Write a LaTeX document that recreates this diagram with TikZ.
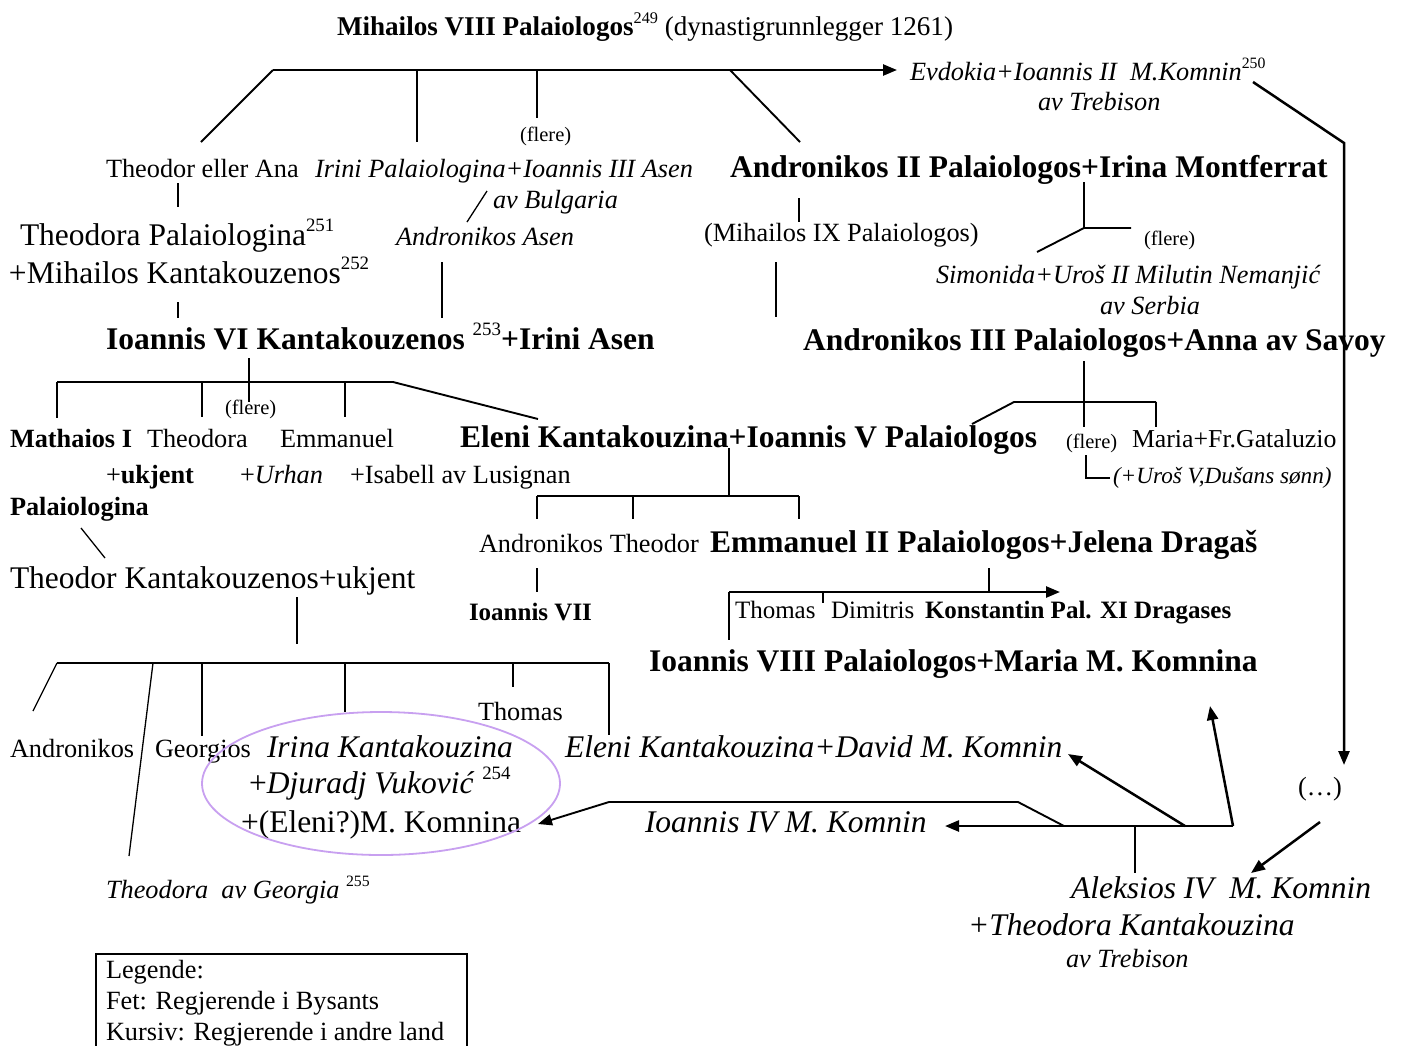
\documentclass[tikz,border=0pt]{standalone}
\usepackage{fontspec}
\setmainfont{Liberation Serif}
\usepackage{graphicx}
\usetikzlibrary{arrows.meta}
\newcommand\sups[1]{\raisebox{0.42em}{\scalebox{0.6}{\mdseries\upshape #1}}}
\newcommand\fsz[1]{\fontsize{#1}{#1}\selectfont}
\definecolor{lav}{RGB}{200,160,240}
\tikzset{
  lbl/.style={anchor=base west, inner sep=0pt, outer sep=0pt},
  fT/.style={lbl, font=\fsz{27.1}},
  fA/.style={lbl, font=\fsz{26.3}},
  fB/.style={lbl, font=\fsz{31.5}},
  fC/.style={lbl, font=\fsz{25}},
  fM/.style={lbl, font=\fsz{25.8}},
  fF/.style={lbl, font=\fsz{20.5}},
  fU/.style={lbl, font=\fsz{23.2}},
  ln/.style={line width=1.3pt},
  lm/.style={line width=1.9pt},
  lk/.style={line width=2.5pt},
  arr/.style={-{Triangle[length=14pt,width=11pt]}},
}
\begin{document}
\begin{tikzpicture}[x=1pt,y=-1pt]
\fill[white] (0,0) rectangle (1410,1045);
\useasboundingbox (0,0) rectangle (1410,1045);

% ---------- texts ----------
\node[fT] (title) at (337,35) {\textbf{Mihailos VIII Palaiologos}\sups{249} (dynastigrunnlegger 1261)};
\node[fA] (evd) at (910,80) {\textit{Evdokia+Ioannis II\ \ M.Komnin}\sups{250}};
\node[fA] (evd2) at (1038,110) {\textit{av Trebison}};
\node[fA] (thea) at (106,177) {Theodor eller Ana};
\node[fA] (irini) at (315,177) {\textit{Irini Palaiologina+Ioannis III Asen}};
\node[fF] (fl1) at (520,141) {(flere)};
\node[fB] (andr2) at (730,177) {\textbf{Andronikos II Palaiologos+Irina Montferrat}};
\node[fA] (bulg) at (493,208) {\textit{av Bulgaria}};
\node[fA] (andasen) at (396,245) {\textit{Andronikos Asen}};
\node[fB] (theodora) at (20,245) {Theodora Palaiologina\sups{251}};
\node[fB] (mihk) at (9,283) {+Mihailos Kantakouzenos\sups{252}};
\node[fA] (mih9) at (704,241) {(Mihailos IX Palaiologos)};
\node[fF] (fl2) at (1144,245) {(flere)};
\node[fA] (simon) at (936,283) {\textit{Simonida+Uroš II Milutin Nemanjić}};
\node[fA] (serb) at (1100,314) {\textit{av Serbia}};
\node[fB] (ioan6) at (106,349) {\textbf{Ioannis VI Kantakouzenos \sups{253}+Irini Asen}};
\node[fB] (andr3) at (803,350) {\textbf{Andronikos III Palaiologos+Anna av Savoy}};
\node[fF] (fl3) at (225,414) {(flere)};
\node[fA] (math) at (10,447) {\textbf{Mathaios I}};
\node[fA] (theo2) at (147,447) {Theodora};
\node[fA] (emm) at (280,447) {Emmanuel};
\node[fB] (eleni) at (460,447) {\textbf{Eleni Kantakouzina+Ioannis V Palaiologos}};
\node[fF] (fl4) at (1066,448) {(flere)};
\node[fM] (maria) at (1132,447) {Maria+Fr.Gataluzio};
\node[fA] (ukj) at (106,483) {+\textbf{ukjent}};
\node[fA] (urh) at (240,483) {+\textit{Urhan}};
\node[fA] (isab) at (350,483) {+Isabell av Lusignan};
\node[fU] (uros) at (1113,483) {\textit{(+Uroš V,Dušans sønn)}};
\node[fA] (palg) at (10,515) {\textbf{Palaiologina}};
\node[fA] (andth) at (479,552) {Andronikos Theodor};
\node[fB] (emm2) at (710,552) {\textbf{Emmanuel II Palaiologos+Jelena Dragaš}};
\node[fB] (theok) at (10,588) {Theodor Kantakouzenos+ukjent};
\node[fC] (ioan7) at (469,620) {\textbf{Ioannis VII}};
\node[fC] (thom) at (735,618) {Thomas};
\node[fC] (dimi) at (831,618) {Dimitris};
\node[fC] (kons) at (925,618) {\textbf{Konstantin Pal. XI Dragases}};
\node[fB] (ioan8) at (649,671) {\textbf{Ioannis VIII Palaiologos+Maria M. Komnina}};
\node[fA] (thom2) at (478,720) {Thomas};
\node[fA] (andro) at (10,757) {Andronikos};
\node[fA] (georg) at (155,757) {Georgios};
\node[fB] (irina) at (267,757) {\textit{Irina Kantakouzina}};
\node[fB] (djur) at (249,793) {+\textit{Djuradj Vuković} \sups{254}};
\node[fB] (elenm) at (241,832) {+(Eleni?)M. Komnina};
\node[fB] (elend) at (565,757) {\textit{Eleni Kantakouzina+David M. Komnin}};
\node[fB] (ioan4) at (645,832) {\textit{Ioannis IV M. Komnin}};
\node[fA] (dots) at (1298,795) {(…)};
\node[fA] (theog) at (106,898) {\textit{Theodora\ \ av Georgia} \sups{255}};
\node[fB] (alek) at (1071,898) {\textit{Aleksios IV\ \ M. Komnin}};
\node[fB] (theok2) at (968,935) {\textit{+Theodora Kantakouzina}};
\node[fA] (treb2) at (1066,967) {\textit{av Trebison}};
\node[fA] (leg1) at (106,978) {Legende:};
\node[fA] (leg2) at (106,1009) {Fet: Regjerende i Bysants};
\node[fA] (leg3) at (106,1040) {Kursiv: Regjerende i andre land};
\draw[line width=1.6pt] (96,954) rectangle (467,1070);

% ---------- ellipse ----------
\draw[lav, line width=1.8pt] (381,783.5) ellipse [x radius=179pt, y radius=71.5pt];

% ---------- generation of Mihailos VIII ----------
\coordinate (g1a) at (273,70); \coordinate (g1b) at (897,70);
\coordinate (g1c) at (201,142);
\coordinate (g1d) at (417,70); \coordinate (g1e) at (417,142);
\coordinate (g1f) at (537,70); \coordinate (g1g) at (537,118);
\coordinate (g1h) at (730,70); \coordinate (g1i) at (800,142);
\draw[lk,arr] (g1a) -- (g1b);
\draw[lm] (g1a) -- (g1c);
\draw[ln] (g1d) -- (g1e);
\draw[ln] (g1f) -- (g1g);
\draw[lm] (g1h) -- (g1i);

\coordinate (ev1) at (1253,82); \coordinate (ev2) at (1344,143); \coordinate (ev3) at (1344,765);
\draw[lk,arr] (ev1) -- (ev2) -- (ev3);

\coordinate (ta1) at (178,183); \coordinate (ta2) at (178,207);
\draw[ln] (ta1) -- (ta2);
\coordinate (bu1) at (487,191); \coordinate (bu2) at (467,222);
\draw[ln] (bu1) -- (bu2);
\coordinate (tp1) at (178,302); \coordinate (tp2) at (178,318);
\draw[ln] (tp1) -- (tp2);
\coordinate (aa1) at (442,262); \coordinate (aa2) at (442,318);
\draw[ln] (aa1) -- (aa2);
\coordinate (a2a) at (799,198); \coordinate (a2b) at (799,222);
\draw[ln] (a2a) -- (a2b);
\coordinate (m9a) at (776,262); \coordinate (m9b) at (776,317);
\draw[ln] (m9a) -- (m9b);
\coordinate (ya) at (1084,182); \coordinate (yb) at (1084,228);
\coordinate (yc) at (1131,228); \coordinate (yd) at (1037,252);
\draw[ln] (ya) -- (yb);
\draw[lm] (yc) -- (yb) -- (yd);

% ---------- children of Ioannis VI ----------
\coordinate (i6a) at (249,358); \coordinate (i6b) at (249,402);
\draw[ln] (i6a) -- (i6b);
\coordinate (i6l) at (57,382); \coordinate (i6r) at (393,382);
\draw[lm] (i6l) -- (i6r);
\coordinate (i6c) at (57,418); \draw[ln] (i6l) -- (i6c);
\coordinate (i6d) at (202,382); \coordinate (i6e) at (202,417); \draw[ln] (i6d) -- (i6e);
\coordinate (i6f) at (345,382); \coordinate (i6g) at (345,417); \draw[ln] (i6f) -- (i6g);
\coordinate (i6h) at (538,419); \draw[lm] (i6r) -- (i6h);

% ---------- children of Andronikos III ----------
\coordinate (a3a) at (1084,361); \coordinate (a3b) at (1084,427);
\draw[ln] (a3a) -- (a3b);
\coordinate (a3l) at (1014,402); \coordinate (a3r) at (1156,402);
\coordinate (a3d) at (972,424); \coordinate (a3e) at (1156,427);
\draw[lm] (a3d) -- (a3l) -- (a3r);
\draw[ln] (a3r) -- (a3e);
\coordinate (la) at (1086,455); \coordinate (lb) at (1086,478); \coordinate (lc) at (1110,478);
\draw[ln] (la) -- (lb) -- (lc);

% ---------- children of Eleni ----------
\coordinate (e5a) at (729,448); \coordinate (e5b) at (729,496);
\draw[ln] (e5a) -- (e5b);
\coordinate (e5l) at (537,496); \coordinate (e5r) at (799,496);
\draw[lm] (e5l) -- (e5r);
\coordinate (e5c) at (537,519); \draw[ln] (e5l) -- (e5c);
\coordinate (e5d) at (633,496); \coordinate (e5e) at (633,519); \draw[ln] (e5d) -- (e5e);
\coordinate (e5f) at (799,519); \draw[ln] (e5r) -- (e5f);

\coordinate (mp1) at (81,528); \coordinate (mp2) at (105,558);
\draw[ln] (mp1) -- (mp2);
\coordinate (at1) at (537,568); \coordinate (at2) at (537,592);
\draw[ln] (at1) -- (at2);

% ---------- children of Emmanuel II ----------
\coordinate (m2a) at (989,568); \coordinate (m2b) at (989,592);
\draw[ln] (m2a) -- (m2b);
\coordinate (m2l) at (729,592); \coordinate (m2r) at (1060,592);
\draw[lk,arr] (m2l) -- (m2r);
\coordinate (m2c) at (729,640); \draw[ln] (m2l) -- (m2c);
\coordinate (m2d) at (823,592); \coordinate (m2e) at (823,603); \draw[ln] (m2d) -- (m2e);

% ---------- children of Theodor Kantakouzenos ----------
\coordinate (tk1) at (297,597); \coordinate (tk2) at (297,644);
\draw[ln] (tk1) -- (tk2);
\coordinate (tkl) at (57,663); \coordinate (tkr) at (609,663);
\draw[lm] (tkl) -- (tkr);
\coordinate (tka) at (33,711); \draw[ln] (tkl) -- (tka);
\coordinate (tkb) at (153,663); \coordinate (tkc) at (129,856); \draw[ln] (tkb) -- (tkc);
\coordinate (tkd) at (202,663); \coordinate (tke) at (202,736); \draw[ln] (tkd) -- (tke);
\coordinate (tkf) at (345,663); \coordinate (tkg) at (345,712); \draw[ln] (tkf) -- (tkg);
\coordinate (tkh) at (513,663); \coordinate (tki) at (513,687); \draw[ln] (tkh) -- (tki);
\coordinate (tkj) at (609,735); \draw[ln] (tkr) -- (tkj);

% ---------- children of Aleksios IV ----------
\coordinate (ak1) at (1233,826); \coordinate (ak2) at (945,826);
\draw[lk,arr] (ak1) -- (ak2);
\coordinate (ak3) at (1064,826); \coordinate (ak4) at (1018,802);
\coordinate (ak5) at (609,802); \coordinate (ak6) at (538,824);
\draw[lm,arr] (ak3) -- (ak4) -- (ak5) -- (ak6);
\coordinate (ak7) at (1135,826); \coordinate (ak8) at (1135,873);
\draw[ln] (ak7) -- (ak8);
\coordinate (ak9) at (1185,826); \coordinate (ak10) at (1068,754);
\draw[lk,arr] (ak9) -- (ak10);
\coordinate (ak11) at (1210,706);
\draw[lk,arr] (ak1) -- (ak11);
\coordinate (dd1) at (1320,822); \coordinate (dd2) at (1251,873);
\draw[lk,arr] (dd1) -- (dd2);
\end{tikzpicture}
\end{document}
